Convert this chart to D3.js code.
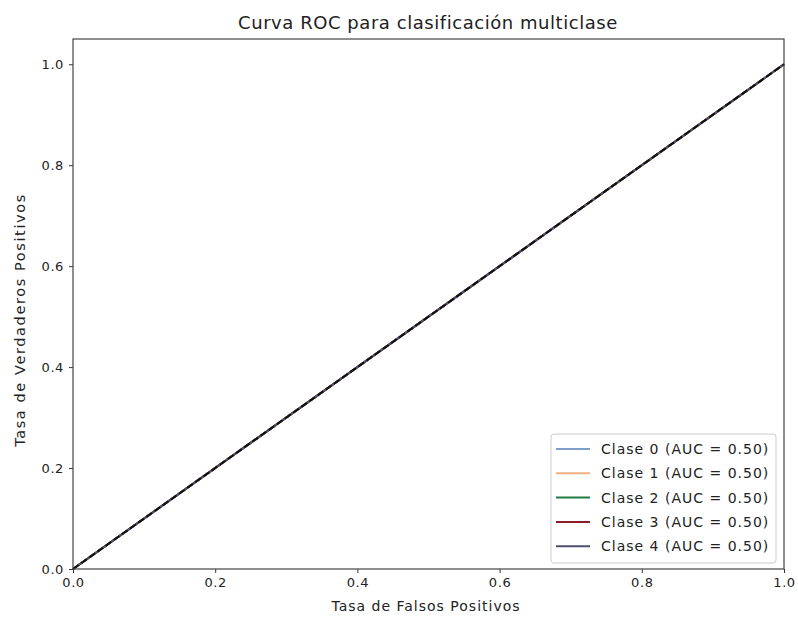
<!DOCTYPE html>
<html>
<head>
<meta charset="utf-8">
<script src="https://cdn.jsdelivr.net/npm/d3@7"></script>
<style>
  body { margin: 0; background: #fff; }
  text { font-family: "DejaVu Sans", sans-serif; fill: #222; }
</style>
</head>
<body>
<svg id="chart" width="798" height="620"></svg>
<script>
// data
var classes = ["Clase 0", "Clase 1", "Clase 2", "Clase 3", "Clase 4"]
var aucs = [0.50, 0.50, 0.50, 0.50, 0.50]
var fpr = [0, 1]
var tpr = [0, 1]
var colors = ["#7f9fc8", "#f3ae80", "#237a42", "#8a1d2b", "#4f4f6e"]
var xTicks = [0.0, 0.2, 0.4, 0.6, 0.8, 1.0]
var yTicks = [0.0, 0.2, 0.4, 0.6, 0.8, 1.0]

var svg = d3.select("#chart")
var plotL = 73, plotR = 784, plotT = 39, plotB = 569

var x = d3.scaleLinear().domain([0, 1]).range([plotL, plotR])
var y = d3.scaleLinear().domain([0, 1.05]).range([plotB, plotT])

// axes
svg.append("g")
  .attr("transform", "translate(0," + plotB + ")")
  .call(d3.axisBottom(x).tickValues(xTicks).tickFormat(d3.format(".1f")).tickSize(4).tickPadding(5))
  .call(g => g.select(".domain").remove())
svg.append("g")
  .attr("transform", "translate(" + plotL + ",0)")
  .call(d3.axisLeft(y).tickValues(yTicks).tickFormat(d3.format(".1f")).tickSize(4).tickPadding(5))
  .call(g => g.select(".domain").remove())
svg.selectAll(".tick text").style("font-size", "13px").style("letter-spacing", "0.6px").attr("fill", "#222")
svg.selectAll(".tick line").attr("stroke", "#333")

// curves
var line = d3.line().x(d => x(d[0])).y(d => y(d[1]))
var pts = fpr.map((f, i) => [f, tpr[i]])
classes.forEach(function(c, i) {
  svg.append("path")
    .datum(pts)
    .attr("d", line)
    .attr("fill", "none")
    .attr("stroke", colors[i])
    .attr("stroke-width", 2)
})
svg.append("path")
  .datum(pts)
  .attr("d", line)
  .attr("fill", "none")
  .attr("stroke", "#111")
  .attr("stroke-width", 2)
  .attr("stroke-dasharray", "7,3")

// frame
svg.append("rect")
  .attr("x", plotL).attr("y", plotT)
  .attr("width", plotR - plotL).attr("height", plotB - plotT)
  .attr("fill", "none").attr("stroke", "#444").attr("stroke-width", 1.2)

// labels
svg.append("text").attr("x", 428).attr("y", 29)
  .attr("text-anchor", "middle").style("font-size", "18px").style("letter-spacing", "0.55px")
  .text("Curva ROC para clasificación multiclase")
svg.append("text").attr("x", 426).attr("y", 611)
  .attr("text-anchor", "middle").style("font-size", "14px").style("letter-spacing", "1px")
  .text("Tasa de Falsos Positivos")
svg.append("text")
  .attr("transform", "translate(25,320) rotate(-90)")
  .attr("text-anchor", "middle").style("font-size", "14.5px").style("letter-spacing", "1.6px")
  .text("Tasa de Verdaderos Positivos")

// legend
var lg = svg.append("g")
lg.append("rect")
  .attr("x", 551).attr("y", 434).attr("width", 225).attr("height", 129)
  .attr("rx", 3).attr("fill", "#fff").attr("fill-opacity", 0.8)
  .attr("stroke", "#ccc")
classes.forEach(function(c, i) {
  var yy = 449 + i * 24.3
  lg.append("line")
    .attr("x1", 556).attr("x2", 590).attr("y1", yy).attr("y2", yy)
    .attr("stroke", colors[i]).attr("stroke-width", 2)
  lg.append("text")
    .attr("x", 601).attr("y", yy + 5)
    .style("font-size", "14px").style("letter-spacing", "1px")
    .text(c + " (AUC = " + aucs[i].toFixed(2) + ")")
})
</script>
</body>
</html>
